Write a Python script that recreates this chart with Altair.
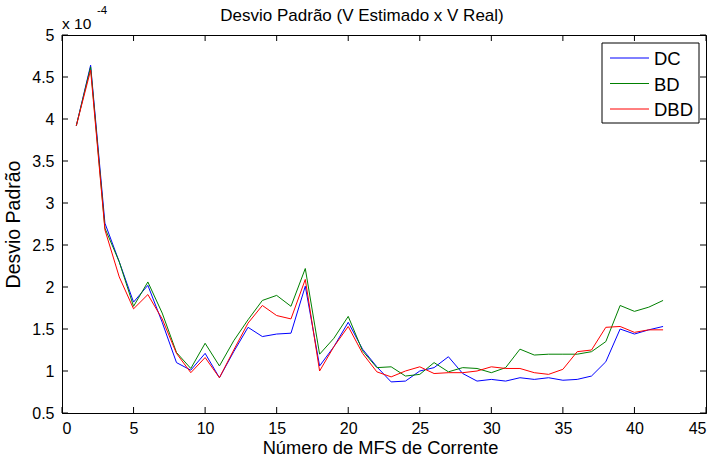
import altair as alt
import pandas as pd

# Standard deviation of estimated vs. real V (values shown in units of 1e-4)
n_mfs = list(range(1, 43))

dc = [3.92, 4.64, 2.76, 2.30, 1.82, 2.02, 1.58, 1.10, 1.01, 1.21,
      0.92, 1.23, 1.52, 1.41, 1.44, 1.45, 2.01, 1.06, 1.29, 1.58,
      1.26, 1.05, 0.87, 0.88, 1.00, 1.04, 1.17, 0.97, 0.88, 0.90,
      0.88, 0.92, 0.90, 0.92, 0.89, 0.90, 0.94, 1.11, 1.50, 1.44,
      1.49, 1.53]

bd = [3.92, 4.62, 2.70, 2.30, 1.77, 2.06, 1.69, 1.22, 1.03, 1.33,
      1.06, 1.36, 1.61, 1.84, 1.90, 1.77, 2.22, 1.20, 1.39, 1.65,
      1.24, 1.04, 1.05, 0.94, 0.96, 1.10, 0.99, 1.04, 1.03, 0.98,
      1.04, 1.26, 1.19, 1.20, 1.20, 1.20, 1.23, 1.35, 1.78, 1.71,
      1.76, 1.84]

dbd = [3.92, 4.58, 2.68, 2.12, 1.74, 1.91, 1.62, 1.21, 0.98, 1.16,
       0.92, 1.25, 1.57, 1.78, 1.66, 1.62, 2.09, 1.00, 1.29, 1.53,
       1.21, 0.99, 0.93, 1.00, 1.05, 0.97, 0.98, 0.98, 1.00, 1.05,
       1.03, 1.03, 0.98, 0.96, 1.02, 1.23, 1.25, 1.52, 1.53, 1.46,
       1.49, 1.49]

series_names = ["DC", "BD", "DBD"]
series_colors = ["#0000ff", "#008000", "#ff0000"]

x_ticks = [0, 5, 10, 15, 20, 25, 30, 35, 40, 45]
y_ticks = [0.5, 1, 1.5, 2, 2.5, 3, 3.5, 4, 4.5, 5]

FONT = "Liberation Sans"
W, H = 644, 378

rows = []
for name, vals in zip(series_names, [dc, bd, dbd]):
    for xv, yv in zip(n_mfs, vals):
        rows.append({"x": xv, "v": yv, "series": name})
df = pd.DataFrame(rows)

xscale = alt.Scale(domain=[0, 45], nice=False, zero=False)
yscale = alt.Scale(domain=[0.5, 5], nice=False, zero=False)
cscale = alt.Scale(domain=series_names, range=series_colors)

xaxis = alt.Axis(values=x_ticks, labelFontSize=16, labelPadding=7,
                 title="Número de MFS de Corrente", titleFontSize=18.3,
                 titleFontWeight="normal", titleX=318, titleY=40,
                 titleAlign="center", titleBaseline="alphabetic")
yaxis = alt.Axis(values=y_ticks, format="~g", labelFontSize=16, labelPadding=8,
                 title="Desvio Padrão", titleFontSize=19.5, titleFontWeight="normal",
                 titleX=-43, titleY=189, titleAngle=270, titleAlign="center",
                 titleBaseline="alphabetic")

# inward tick marks on all four sides
xt = pd.DataFrame({"t": x_ticks})
yt = pd.DataFrame({"t": y_ticks})
tick_style = dict(color="black", strokeWidth=1)
xt_bottom = alt.Chart(xt).mark_rule(**tick_style).encode(
    x=alt.X("t:Q", scale=xscale, axis=xaxis), y=alt.value(H), y2=alt.value(H - 6))
xt_top = alt.Chart(xt).mark_rule(**tick_style).encode(
    x=alt.X("t:Q", scale=xscale, axis=xaxis), y=alt.value(0), y2=alt.value(6))
yt_left = alt.Chart(yt).mark_rule(**tick_style).encode(
    y=alt.Y("t:Q", scale=yscale, axis=yaxis), x=alt.value(0), x2=alt.value(6))
yt_right = alt.Chart(yt).mark_rule(**tick_style).encode(
    y=alt.Y("t:Q", scale=yscale, axis=yaxis), x=alt.value(W), x2=alt.value(W - 6))

# one layer per series so DBD is drawn on top
line_layers = []
for name in series_names:
    line_layers.append(
        alt.Chart(df).transform_filter(alt.datum.series == name).mark_line(strokeWidth=1).encode(
            x=alt.X("x:Q", scale=xscale, axis=xaxis),
            y=alt.Y("v:Q", scale=yscale, axis=yaxis),
            color=alt.Color("series:N", scale=cscale, legend=None),
        )
    )

# boxed legend in the upper right corner
leg_df = pd.DataFrame({"series": series_names, "i": [0, 1, 2]})
leg_box = alt.Chart(pd.DataFrame({"a": [0]})).mark_rect(
    fill="white", stroke="black", strokeWidth=1).encode(
    x=alt.value(540), x2=alt.value(637), y=alt.value(8), y2=alt.value(88))
leg_lines = alt.Chart(leg_df).transform_calculate(py="23 + 25.5 * datum.i").mark_rule(
    strokeWidth=1).encode(
    x=alt.value(548), x2=alt.value(587),
    y=alt.Y("py:Q", scale=None),
    color=alt.Color("series:N", scale=cscale, legend=None))
leg_text = alt.Chart(leg_df).transform_calculate(py="24 + 25.5 * datum.i").mark_text(
    align="left", baseline="middle", font=FONT, fontSize=18.5, color="black").encode(
    x=alt.value(592), y=alt.Y("py:Q", scale=None), text="series:N")

# exponent note and title
one = pd.DataFrame({"a": [0]})
exp_base = alt.Chart(one).mark_text(
    align="left", baseline="alphabetic", font=FONT, fontSize=15.5, color="black",
    text="x 10").encode(x=alt.value(0), y=alt.value(-6))
exp_sup = alt.Chart(one).mark_text(
    align="left", baseline="alphabetic", font=FONT, fontSize=11.5, color="black",
    text="-4").encode(x=alt.value(35), y=alt.value(-21))
title = alt.Chart(one).mark_text(
    align="center", baseline="alphabetic", font=FONT, fontSize=17, color="black",
    text="Desvio Padrão (V Estimado x V Real)").encode(x=alt.value(300), y=alt.value(-14))

chart = alt.layer(
    xt_bottom, xt_top, yt_left, yt_right, *line_layers,
    leg_box, leg_lines, leg_text, exp_base, exp_sup, title,
).properties(
    width=W, height=H,
    autosize=alt.AutoSizeParams(type="none"),
    padding={"left": 62, "top": 35, "right": 12, "bottom": 51},
    background="white",
).configure_view(
    stroke="black", strokeWidth=1,
).configure_axis(
    domainColor="black", domainWidth=1, labelColor="black", titleColor="black",
    labelFont=FONT, titleFont=FONT, grid=False, ticks=False,
)

chart.save("out.html", embed_options={"renderer": "svg", "actions": False})
